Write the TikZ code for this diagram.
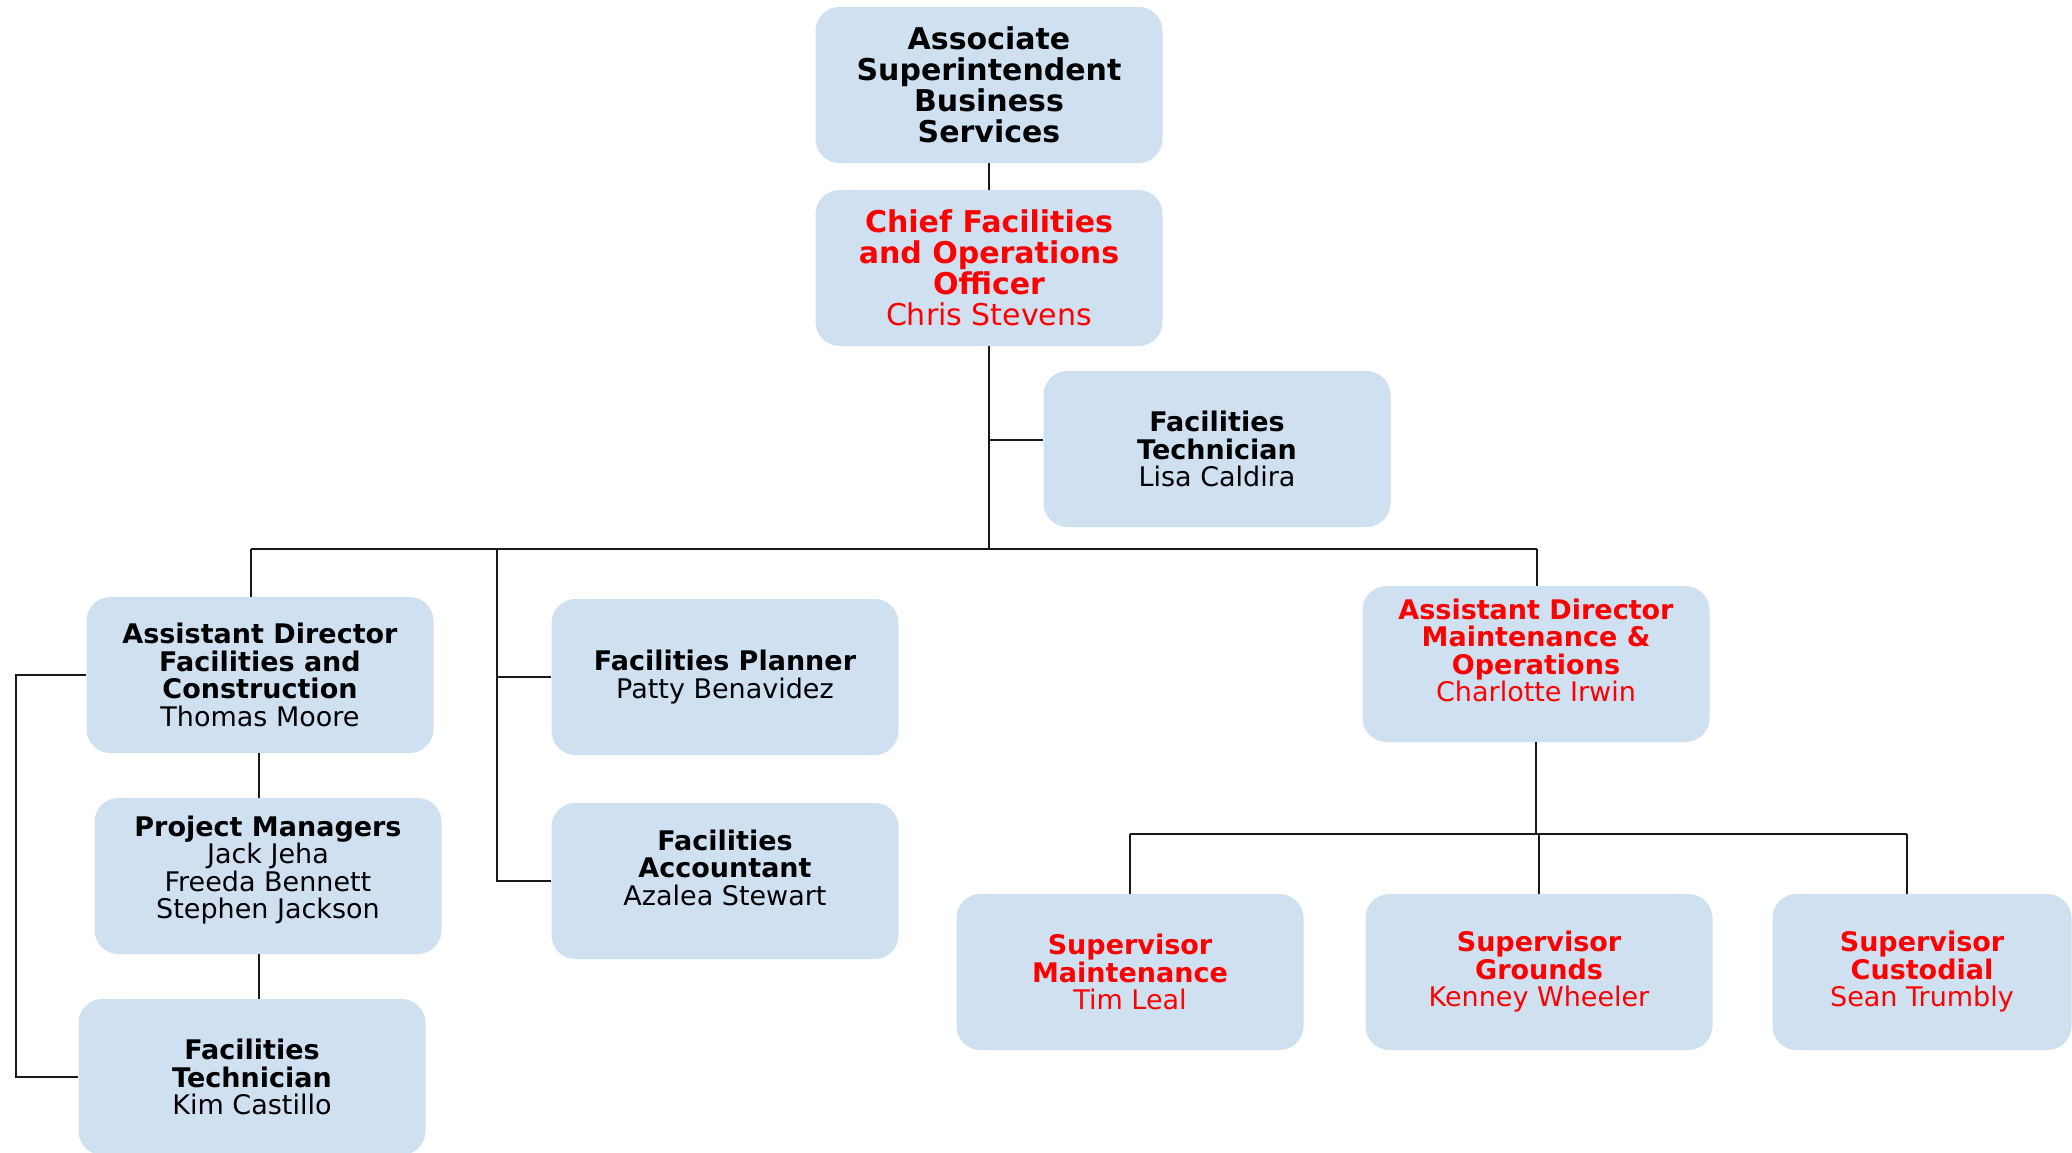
\documentclass[tikz,border=0pt]{standalone}
\usepackage{fontspec}
\setmainfont{DejaVu Sans}
\definecolor{boxblue}{RGB}{207,224,241}
\definecolor{redtxt}{RGB}{255,0,0}
\newcommand\hd[1]{\textbf{#1}}
\begin{document}
\begin{tikzpicture}[x=1pt,y=-1pt,
  box/.style={fill=boxblue, draw=none, rounded corners=24pt, align=center, inner sep=0pt,
    minimum width=347pt, minimum height=156pt, font=\fontsize{27}{27.5}\selectfont},
  topbox/.style={box, font=\fontsize{30}{31}\selectfont},
  redbox/.style={text=redtxt},
  conn/.style={draw=black!90, line width=2.2pt}]
\useasboundingbox[fill=white] (0,0) rectangle (2072,1153);
% boxes
\node[topbox] (asb) at (989,85) {\hd{Associate}\\\hd{Superintendent}\\\hd{Business}\\\hd{Services}};
\node[topbox, redbox] (cfo) at (989,268) {\hd{Chief Facilities}\\\hd{and Operations}\\\hd{Officer}\\Chris Stevens};
\node[box] (lisa) at (1217,449) {\hd{Facilities}\\\hd{Technician}\\Lisa Caldira};
\node[box] (adfc) at (260,675) {\hd{Assistant Director}\\\hd{Facilities and}\\\hd{Construction}\\Thomas Moore};
\node[box] (pm) at (268,876) {\hd{Project Managers}\\Jack Jeha\\Freeda Bennett\\Stephen Jackson\\[-10pt]\mbox{}};
\node[box] (kim) at (252,1077) {\hd{Facilities}\\\hd{Technician}\\Kim Castillo};
\node[box] (planner) at (725,677) {\hd{Facilities Planner}\\Patty Benavidez};
\node[box] (acct) at (725,881) {\hd{Facilities}\\\hd{Accountant}\\Azalea Stewart\\\mbox{}};
\node[box, redbox] (admo) at (1536,664) {\hd{Assistant Director}\\\hd{Maintenance \&}\\\hd{Operations}\\Charlotte Irwin\\\mbox{}};
\node[box, redbox] (supm) at (1130,972) {\hd{Supervisor}\\\hd{Maintenance}\\Tim Leal};
\node[box, redbox] (supg) at (1539,972) {\hd{Supervisor}\\\hd{Grounds}\\Kenney Wheeler};
\node[box, redbox, minimum width=299pt] (supc) at (1922,972) {\hd{Supervisor}\\\hd{Custodial}\\Sean Trumbly};
% junction coordinates
\coordinate (busL) at (251,549);
\coordinate (busR) at (1537,549);
\coordinate (mid) at (497,549);
\coordinate (brk) at (16,700);
\coordinate (sbL) at (1130,834);
\coordinate (sbR) at (1907,834);
\coordinate (pmx) at (259,0);
% connectors
\draw[conn] (asb) -- (cfo);
\draw[conn] (cfo.south) -- (cfo.south |- busL);
\draw[conn] ([yshift=9pt]lisa.west) -- ([yshift=9pt]lisa.west -| cfo.south);
\draw[conn] (busL) -- (busR);
\draw[conn] (busL) -- (busL |- adfc.north);
\draw[conn] (busR) -- (busR |- admo.north);
\draw[conn] (mid) |- (acct.west);
\draw[conn] (mid |- planner.west) -- (planner.west);
\draw[conn] (pmx |- adfc.south) -- (pmx |- pm.north);
\draw[conn] (pmx |- pm.south) -- (pmx |- kim.north);
\draw[conn] (adfc.west) -- (adfc.west -| brk) |- (kim.west);
\draw[conn] (admo.south) -- (admo.south |- sbL);
\draw[conn] (sbL) -- (sbR);
\draw[conn] (sbL) -- (supm.north);
\draw[conn] (supg.north |- sbL) -- (supg.north);
\draw[conn] (sbR) -- (sbR |- supc.north);
\end{tikzpicture}
\end{document}
